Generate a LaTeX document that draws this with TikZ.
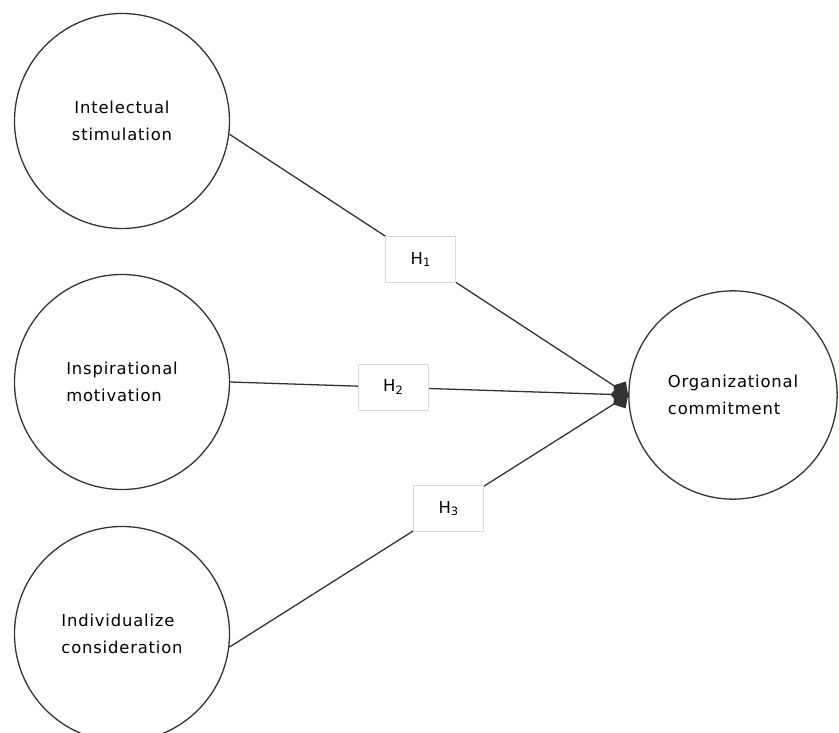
\documentclass[tikz,border=0pt]{standalone}
\usepackage{fontspec}
\setmainfont{DejaVu Sans}[LetterSpace=5]
\usetikzlibrary{arrows.meta}
\begin{document}
\begin{tikzpicture}[x=0.03cm, y=-0.03cm, line width=1.1pt,
  main node/.style={circle,draw=black!80,minimum size=6.45cm,inner sep=0pt,align=left},
  hyp node/.style={rectangle,draw=black!15,line width=0.6pt,fill=white,minimum width=2.1cm,minimum height=1.4cm},
  every edge/.style={draw=black!80,-{Kite[length=15pt,width=17pt,inset=7pt]}}]
\useasboundingbox (0,0) rectangle (839,733);
\begin{scope}[every node/.style={font=\fontsize{14}{23}\selectfont}]
\node[main node,align=center] (is) at (122,121) {Intelectual\\stimulation};
\node[main node] (im) at (122,382) {Inspirational\\motivation};
\node[main node] (ic) at (122,634) {Individualize\\consideration};
\node[main node,minimum size=6.25cm] (oc) at (733,395) {Organizational\\commitment};
\end{scope}
\begin{scope}[every node/.style={font=\fontsize{14}{16}\selectfont}]
\draw (is.-7) edge node[hyp node,pos=0.48] {H\textsubscript{1}} (oc.west);
\draw (im.east) edge node[hyp node,pos=0.41] {H\textsubscript{2}} (oc.west);
\draw (ic.-7) edge node[hyp node,pos=0.55] {H\textsubscript{3}} (oc.west);
\end{scope}
\end{tikzpicture}
\end{document}
